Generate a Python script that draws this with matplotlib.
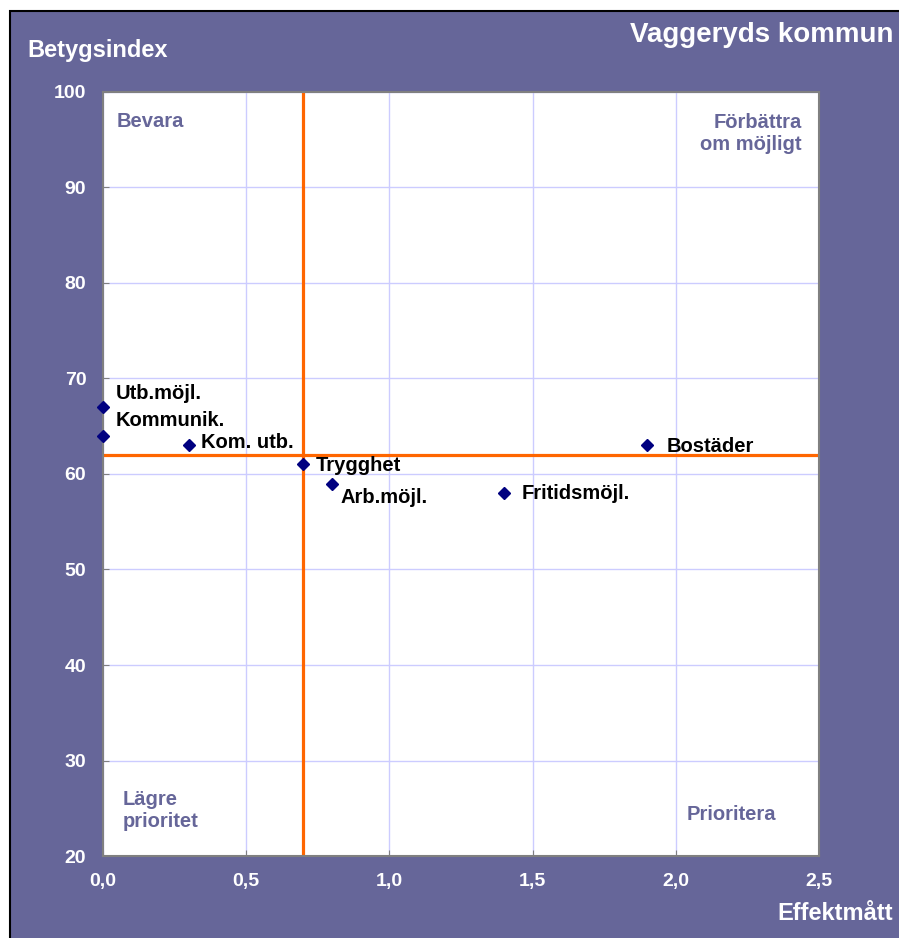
import matplotlib
matplotlib.use("Agg")
import matplotlib.pyplot as plt
from matplotlib.patches import Rectangle

plt.rcParams['font.family'] = ['Liberation Sans', 'DejaVu Sans']
plt.rcParams['font.weight'] = 'bold'

labels = ["Utb.möjl.", "Kommunik.", "Kom. utb.", "Trygghet", "Arb.möjl.", "Fritidsmöjl.", "Bostäder"]
effekt = [0.0, 0.0, 0.3, 0.7, 0.8, 1.4, 1.9]
betyg = [67, 64, 63, 61, 59, 58, 63]
ref_x = 0.7
ref_y = 62
x_ticks = [0.0, 0.5, 1.0, 1.5, 2.0, 2.5]
y_ticks = [20, 30, 40, 50, 60, 70, 80, 90, 100]

# label offsets (points)
offsets = [(9, 10), (9, 11), (9, 2), (9, -1), (6, -10), (13, 0), (14, -1)]

W, H = 899, 938
fig = plt.figure(figsize=(W / 100, H / 100), dpi=100, facecolor='white')
purple = '#666699'
fig.patches.append(Rectangle((10 / W, -0.01), 1.0, 1 - 11 / H + 0.01, transform=fig.transFigure,
                             facecolor=purple, edgecolor='black', linewidth=1.5, zorder=-5))

ax = fig.add_axes([103 / W, 1 - 856 / H, (819 - 103) / W, (856 - 92) / H])
ax.set_zorder(2)
ax.set_facecolor('white')
ax.set_xlim(0, 2.5)
ax.set_ylim(20, 100)
ax.set_xticks(x_ticks)
ax.set_yticks(y_ticks)
ax.set_xticklabels([f"{v:.1f}".replace('.', ',') for v in x_ticks])
ax.set_yticklabels([str(v) for v in y_ticks])
ax.grid(True, color='#ccccff', linewidth=1)
ax.set_axisbelow(True)
for s in ax.spines.values():
    s.set_color('#808080')
    s.set_linewidth(1.5)
ax.tick_params(axis='both', direction='in', length=4, color='#808080', labelcolor='white', labelsize=14)
ax.tick_params(axis='x', pad=12)
ax.tick_params(axis='y', pad=12)
for t in ax.get_xticklabels() + ax.get_yticklabels():
    t.set_fontweight('bold')

ax.axvline(ref_x, color='#ff6600', linewidth=2.3, zorder=2)
ax.axhline(ref_y, color='#ff6600', linewidth=2.3, zorder=2)

ax.plot(effekt, betyg, linestyle='none', marker='D', markersize=6, color='#000080', zorder=4, clip_on=False)
for lab, x, y, (dx, dy) in zip(labels, effekt, betyg, offsets):
    ax.annotate(lab, (x, y), xytext=(dx, dy), textcoords='offset points', ha='left', va='center',
                fontsize=14.5, fontweight='bold', color='black', zorder=5)

qc = purple
ax.text(0.0196, 0.961, "Bevara", transform=ax.transAxes, ha='left', va='center', fontsize=14.5,
        fontweight='bold', color=qc)
ax.text(0.976, 0.9457, "Förbättra\nom möjligt", transform=ax.transAxes, ha='right', va='center',
        fontsize=14.5, fontweight='bold', color=qc, multialignment='right', linespacing=1.24)
ax.text(0.028, 0.0596, "Lägre\nprioritet", transform=ax.transAxes, ha='left', va='center',
        fontsize=14.5, fontweight='bold', color=qc, linespacing=1.24)
ax.text(0.94, 0.0537, "Prioritera", transform=ax.transAxes, ha='right', va='center', fontsize=14.5,
        fontweight='bold', color=qc)

fig.text(893 / W, 1 - 35 / H, "Vaggeryds kommun", ha='right', va='center', fontsize=20,
         fontweight='bold', color='white')
fig.text(27 / W, 1 - 50 / H, "Betygsindex", ha='left', va='center', fontsize=17,
         fontweight='bold', color='white')
fig.text(893 / W, 1 - 913 / H, "Effektmått", ha='right', va='center', fontsize=17,
         fontweight='bold', color='white')

fig.savefig("out.png", dpi=100, facecolor=fig.get_facecolor())
